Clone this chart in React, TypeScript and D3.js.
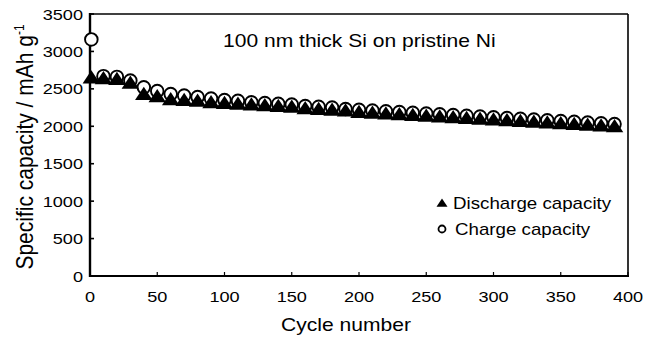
import React, { useEffect, useRef } from 'react';
import * as d3 from 'd3';

// cycle numbers where markers are plotted
const cycles = [1, 10, 20, 30, 40, 50, 60, 70, 80, 90, 100, 110, 120, 130, 140, 150, 160, 170, 180, 190,
  200, 210, 220, 230, 240, 250, 260, 270, 280, 290, 300, 310, 320, 330, 340, 350, 360, 370, 380, 390];

const chargeCap = [3160, 2670, 2660, 2610, 2520, 2470, 2430, 2410, 2390, 2370, 2350, 2340, 2320, 2310, 2300, 2290,
  2270, 2260, 2250, 2230, 2220, 2210, 2200, 2190, 2180, 2170, 2160, 2150, 2140, 2130, 2120, 2110, 2100, 2090,
  2080, 2070, 2060, 2050, 2040, 2030];

const dischargeCap = [2630, 2620, 2610, 2560, 2410, 2380, 2340, 2330, 2320, 2300, 2290, 2280, 2270, 2260, 2250, 2240,
  2220, 2210, 2200, 2190, 2170, 2160, 2150, 2140, 2130, 2120, 2110, 2100, 2090, 2080, 2070, 2060, 2050, 2040,
  2030, 2020, 2010, 2000, 1990, 1980];

const xTicks = [0, 50, 100, 150, 200, 250, 300, 350, 400];
const yTicks = [0, 500, 1000, 1500, 2000, 2500, 3000, 3500];

const W = 653;
const H = 338;
const FONT = '"Liberation Sans", Arial, sans-serif';
const SX = 1.17; // the original lettering is stretched sideways

const App = () => {
  const ref = useRef<SVGSVGElement>(null);

  useEffect(() => {
    const svg = d3.select(ref.current);
    svg.selectAll('*').remove();

    const left = 90, right = 628, top = 14, bottom = 276;
    const x = d3.scaleLinear().domain([0, 400]).range([left, right]);
    const y = d3.scaleLinear().domain([0, 3500]).range([bottom, top]);

    const label = (tx: number, ty: number, size: number, anchor: string, str: string) =>
      svg.append('text')
        .attr('transform', `translate(${tx},${ty}) scale(${SX},1)`)
        .attr('text-anchor', anchor).attr('font-family', FONT).attr('font-size', size)
        .text(str);

    // frame
    svg.append('line').attr('x1', left).attr('x2', right).attr('y1', top).attr('y2', top)
      .attr('stroke', '#000').attr('stroke-width', 1.6);
    svg.append('line').attr('x1', right).attr('x2', right).attr('y1', top).attr('y2', bottom)
      .attr('stroke', '#000').attr('stroke-width', 1.6);

    // x axis
    svg.append('line').attr('x1', left - 1).attr('x2', right + 1).attr('y1', bottom).attr('y2', bottom)
      .attr('stroke', '#000').attr('stroke-width', 2.2);
    svg.selectAll('.xt').data(xTicks).enter().append('line')
      .attr('x1', (d) => x(d)).attr('x2', (d) => x(d))
      .attr('y1', bottom).attr('y2', bottom - 4)
      .attr('stroke', '#000').attr('stroke-width', 1.2);
    xTicks.forEach((d) => label(x(d), bottom + 26, 15.5, 'middle', String(d)));

    // y axis
    svg.append('line').attr('x1', left).attr('x2', left).attr('y1', top - 1).attr('y2', bottom + 1)
      .attr('stroke', '#000').attr('stroke-width', 2.4);
    svg.selectAll('.yt').data(yTicks).enter().append('line')
      .attr('x1', left).attr('x2', left + 4)
      .attr('y1', (d) => y(d)).attr('y2', (d) => y(d))
      .attr('stroke', '#000').attr('stroke-width', 1.6);
    yTicks.forEach((d) => label(left - 7, y(d) + 5.5, 15.5, 'end', String(d)));

    // axis titles
    label(346, 331, 18, 'middle', 'Cycle number');
    const yt = svg.append('text')
      .attr('transform', `translate(33,${(top + bottom) / 2 + 2}) scale(${SX},1) rotate(-90)`)
      .attr('text-anchor', 'middle').attr('font-family', FONT).attr('font-size', 21);
    yt.append('tspan').text('Specific capacity / mAh g');
    yt.append('tspan').attr('dy', -8).attr('font-size', 12).text('-1');

    // annotation
    label(223, 47, 18, 'start', '100 nm thick Si on pristine Ni');

    const tri = d3.symbol().type(d3.symbolTriangle).size(100);

    // charge circles first, triangles on top
    svg.selectAll('.ch').data(cycles).enter().append('circle')
      .attr('cx', (d) => x(d)).attr('cy', (d, i) => y(chargeCap[i]))
      .attr('r', 6.3).attr('fill', '#fff').attr('stroke', '#000').attr('stroke-width', 1.9);
    svg.selectAll('.dc').data(cycles).enter().append('path')
      .attr('d', tri)
      .attr('transform', (d, i) => `translate(${x(d)},${y(dischargeCap[i])}) scale(1.15,1)`)
      .attr('fill', '#000');

    // legend
    svg.append('path').attr('d', d3.symbol().type(d3.symbolTriangle).size(40))
      .attr('transform', 'translate(442,204) scale(1.15,1)').attr('fill', '#000');
    label(453, 209, 16, 'start', 'Discharge capacity');
    svg.append('circle').attr('cx', 442).attr('cy', 229).attr('r', 3.5)
      .attr('fill', '#fff').attr('stroke', '#000').attr('stroke-width', 1.8);
    label(455, 235, 16, 'start', 'Charge capacity');
  }, []);

  return (
    <div style={{ position: 'absolute', left: 0, top: 0, background: '#fff' }}>
      <svg ref={ref} width={W} height={H} style={{ display: 'block' }} />
    </div>
  );
};

export default App;
